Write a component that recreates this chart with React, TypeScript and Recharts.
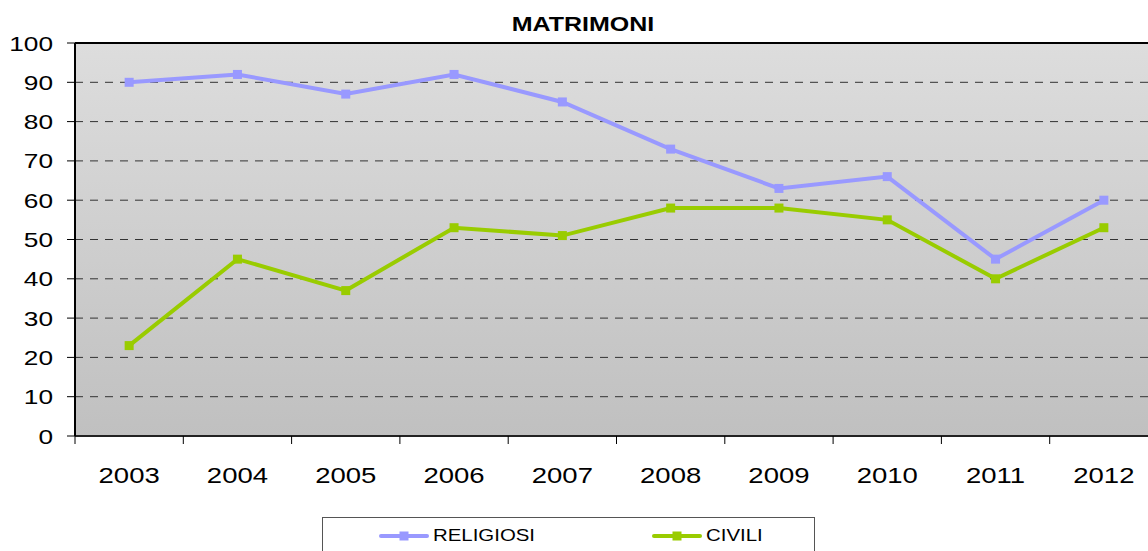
import React from "react";
import { LineChart, Line, XAxis, YAxis, CartesianGrid, Legend, ReferenceLine } from "recharts";

const years = ["2003", "2004", "2005", "2006", "2007", "2008", "2009", "2010", "2011", "2012"];
const religiosi = [90, 92, 87, 92, 85, 73, 63, 66, 45, 60];
const civili = [23, 45, 37, 53, 51, 58, 58, 55, 40, 53];
const yTicks = [0, 10, 20, 30, 40, 50, 60, 70, 80, 90, 100];
const seriesOrder = ["RELIGIOSI", "CIVILI"];

const FONT = '"Liberation Sans", Arial, sans-serif';
const STRETCH = 1.25; // the source picture is stretched sideways
const CHART_W = 1170;
const CHART_H = 560;
const MARGIN = { top: 43, right: 12, left: 0, bottom: 64 };
const Y_W = 75;
const BAND = (CHART_W - Y_W - MARGIN.right) / years.length;

const data = years.map((year, i) => ({ year, religiosi: religiosi[i], civili: civili[i] }));

const YTick = (props: any) => {
  const { x, y, payload } = props;
  return (
    <text
      transform={`translate(${x},${y}) scale(${STRETCH},1)`}
      textAnchor="end"
      dy="0.36em"
      fontSize={21}
      fontFamily={FONT}
      fill="#000"
    >
      {payload.value}
    </text>
  );
};

const XTick = (props: any) => {
  const { x, y, payload } = props;
  const axisY = y - 22;
  const bx = x - BAND / 2;
  return (
    <g>
      <line x1={bx} y1={axisY} x2={bx} y2={axisY + 8} stroke="#000" strokeWidth={1} />
      <text
        transform={`translate(${x},${y + 25}) scale(${STRETCH},1)`}
        textAnchor="middle"
        fontSize={22}
        fontFamily={FONT}
        fill="#000"
      >
        {payload.value}
      </text>
    </g>
  );
};

const squareDot = (color: string) => (props: any) => {
  const { cx, cy, index } = props;
  if (cx == null || cy == null) return <g key={index} />;
  return <rect key={index} x={cx - 4.5} y={cy - 4.5} width={9} height={9} fill={color} />;
};

const LegendBox = (props: any) => {
  const items = [...(props.payload || [])].sort(
    (a: any, b: any) => seriesOrder.indexOf(a.value) - seriesOrder.indexOf(b.value)
  );
  return (
    <div
      style={{
        boxSizing: "border-box",
        width: 493,
        height: 40,
        border: "1.5px solid #555",
        background: "#fff",
        position: "relative",
        fontFamily: FONT,
      }}
    >
      {items.map((entry: any, i: number) => (
        <div
          key={entry.value}
          style={{ position: "absolute", left: i === 0 ? 56 : 329, top: 0, height: 36, display: "flex", alignItems: "center" }}
        >
          <svg width={50} height={12} style={{ display: "block" }}>
            <line x1={2} y1={6} x2={48} y2={6} stroke={entry.color} strokeWidth={4} strokeLinecap="round" />
            <rect x={20.5} y={1.5} width={9} height={9} fill={entry.color} />
          </svg>
          <span
            style={{
              marginLeft: 4,
              fontSize: 17,
              color: "#000",
              display: "inline-block",
              transform: `scaleX(${STRETCH * 0.96})`,
              transformOrigin: "left center",
            }}
          >
            {entry.value}
          </span>
        </div>
      ))}
    </div>
  );
};

export default function App() {
  return (
    <div style={{ position: "absolute", left: 0, top: 0, width: 1148, height: 551, overflow: "hidden", background: "#fff" }}>
      <LineChart width={CHART_W} height={CHART_H} data={data} margin={MARGIN}>
        <defs>
          <linearGradient id="plotBg" x1="0" y1="0" x2="0" y2="1">
            <stop offset="0%" stopColor="#dddddd" />
            <stop offset="100%" stopColor="#c0c0c0" />
          </linearGradient>
        </defs>
        <text
          transform={`translate(583,31) scale(${STRETCH},1)`}
          textAnchor="middle"
          fontSize={20}
          fontWeight="bold"
          fontFamily={FONT}
          fill="#000"
        >
          MATRIMONI
        </text>
        <CartesianGrid vertical={false} stroke="#333" strokeDasharray="8 7" fill="url(#plotBg)" />
        <XAxis
          dataKey="year"
          scale="band"
          height={60}
          axisLine={{ stroke: "#222", strokeWidth: 2 }}
          tickLine={false}
          tickSize={8}
          tickMargin={14}
          tick={<XTick />}
          interval={0}
        />
        <YAxis
          width={Y_W}
          domain={[0, 100]}
          ticks={yTicks}
          interval={0}
          axisLine={{ stroke: "#000", strokeWidth: 2 }}
          tickLine={{ stroke: "#000" }}
          tickSize={8}
          tickMargin={14}
          tick={<YTick />}
        />
        <ReferenceLine y={100} stroke="#000" strokeWidth={2} />
        <Legend
          layout="horizontal"
          verticalAlign="middle"
          align="center"
          wrapperStyle={{ top: 517, left: 322, width: 493 }}
          content={<LegendBox />}
        />
        <Line
          type="linear"
          dataKey="religiosi"
          name="RELIGIOSI"
          stroke="#9999ff"
          strokeWidth={4}
          dot={squareDot("#9999ff")}
          activeDot={false}
          isAnimationActive={false}
        />
        <Line
          type="linear"
          dataKey="civili"
          name="CIVILI"
          stroke="#99cc00"
          strokeWidth={4}
          dot={squareDot("#99cc00")}
          activeDot={false}
          isAnimationActive={false}
        />
      </LineChart>
    </div>
  );
}
